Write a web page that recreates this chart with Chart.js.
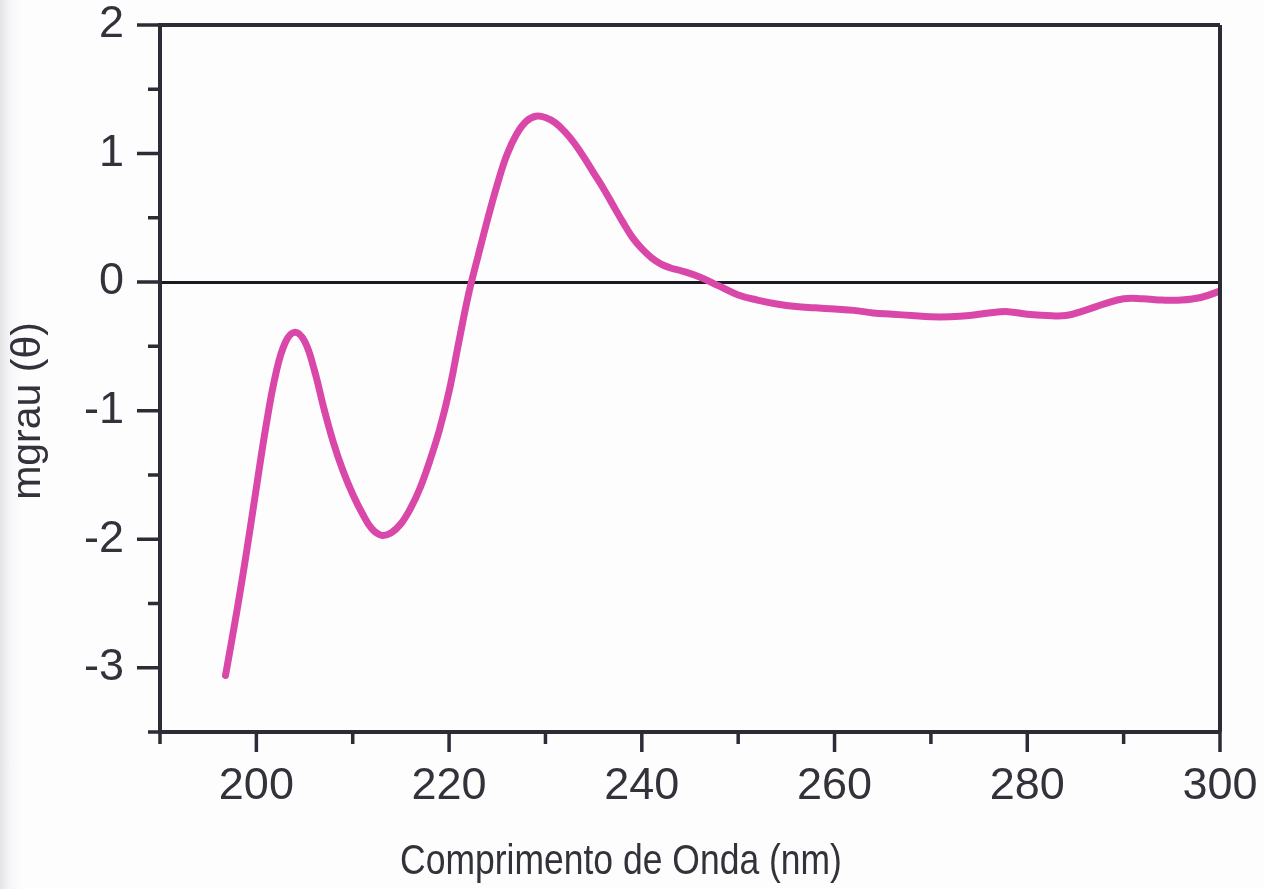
<!DOCTYPE html>
<html>
<head>
<meta charset="utf-8">
<script src="https://cdn.jsdelivr.net/npm/chart.js@4.4.1/dist/chart.umd.min.js"></script>
<style>
  html, body { margin: 0; padding: 0; background: #fdfdfe; }
  body { background: linear-gradient(to right, #e4e4e6 0px, #f6f6f8 10px, #fdfdfe 22px); }
  #wrap { width: 1264px; height: 889px; position: relative; }
</style>
</head>
<body>
<div id="wrap"><canvas id="cd"></canvas></div>
<script>
// CD spectrum: wavelength (nm) vs ellipticity (mdeg)
const wavelength = [
  196.8, 198, 199, 200, 201, 202, 203, 204, 205, 206, 207, 208, 209, 210,
  211, 212, 213, 214, 215, 216, 217, 218, 219, 220, 221, 222, 223, 224,
  225, 226, 227, 228, 229, 230, 231, 232, 233, 234, 235, 236, 237, 238,
  239, 240, 241, 242, 243, 244, 246, 248, 250, 252, 254, 256, 258, 260,
  262, 264, 266, 268, 270, 272, 274, 276, 278, 280, 282, 284, 286, 288,
  290, 292, 294, 296, 298, 300
];
const ellipticity = [
  -3.06, -2.55, -2.09, -1.60, -1.12, -0.72, -0.47, -0.39, -0.46, -0.68, -0.98, -1.25, -1.47, -1.65,
  -1.80, -1.92, -1.97, -1.95, -1.88, -1.76, -1.60, -1.39, -1.15, -0.85, -0.47, -0.10, 0.20, 0.49,
  0.76, 0.99, 1.15, 1.25, 1.29, 1.28, 1.24, 1.17, 1.08, 0.97, 0.85, 0.73, 0.60, 0.47,
  0.35, 0.26, 0.19, 0.14, 0.11, 0.09, 0.04, -0.03, -0.10, -0.14, -0.17, -0.19, -0.20, -0.21,
  -0.22, -0.24, -0.25, -0.26, -0.27, -0.27, -0.26, -0.24, -0.23, -0.25, -0.26, -0.26, -0.22, -0.17,
  -0.13, -0.13, -0.14, -0.14, -0.12, -0.07
];

const xTitle = "Comprimento de Onda (nm)";
const yTitle = "mgrau (\u03b8)";

const axisColor = "#2e2a36";
const textColor = "#35313b";
const fontFamily = "Arial, 'Liberation Sans', Helvetica, sans-serif";

// tick marks (major/minor lengths differ), frame and axis titles
const frame = {
  id: "frame",
  afterDraw(chart) {
    const { ctx, chartArea: a, scales } = chart;
    ctx.save();
    ctx.strokeStyle = axisColor;
    ctx.lineWidth = 4;
    ctx.lineCap = "butt";

    ctx.beginPath();
    ctx.moveTo(a.left, a.top);
    ctx.lineTo(a.right, a.top);
    ctx.moveTo(a.right, a.top);
    ctx.lineTo(a.right, a.bottom);
    ctx.stroke();

    ctx.lineWidth = 3.5;
    ctx.beginPath();
    scales.x.ticks.forEach(t => {
      const px = scales.x.getPixelForValue(t.value);
      const len = t.value % 20 === 0 ? 20 : 12;
      ctx.moveTo(px, a.bottom);
      ctx.lineTo(px, a.bottom + len);
    });
    scales.y.ticks.forEach(t => {
      const py = scales.y.getPixelForValue(t.value);
      const len = Number.isInteger(t.value) ? 23 : 12;
      ctx.moveTo(a.left, py);
      ctx.lineTo(a.left - len, py);
    });
    ctx.stroke();

    ctx.fillStyle = textColor;
    ctx.textAlign = "center";
    ctx.textBaseline = "middle";

    // narrow-set x title
    ctx.save();
    ctx.font = "42px " + fontFamily;
    ctx.translate(621, 862);
    ctx.scale(0.845, 1);
    ctx.fillText(xTitle, 0, 0);
    ctx.restore();

    ctx.font = "41px " + fontFamily;
    ctx.translate(29, 411);
    ctx.rotate(-Math.PI / 2);
    ctx.fillText(yTitle, 0, 0);
    ctx.restore();
  }
};

new Chart(document.getElementById("cd"), {
  type: "line",
  data: {
    datasets: [{
      data: wavelength.map((w, i) => ({ x: w, y: ellipticity[i] })),
      borderColor: "#d948a9",
      borderWidth: 7,
      pointRadius: 0,
      tension: 0.4,
      borderCapStyle: "round",
      fill: false
    }]
  },
  options: {
    responsive: true,
    maintainAspectRatio: false,
    animation: false,
    layout: { padding: { top: 25, right: 44, left: 0, bottom: 0 } },
    plugins: { legend: { display: false }, tooltip: { enabled: false } },
    scales: {
      x: {
        type: "linear",
        min: 190,
        max: 300,
        ticks: {
          stepSize: 10,
          color: textColor,
          font: { size: 45, family: fontFamily, lineHeight: 1 },
          padding: 12,
          maxRotation: 0,
          autoSkip: false,
          callback: v => (v % 20 === 0 ? v : "")
        },
        grid: { drawOnChartArea: false, tickLength: 20, tickColor: "transparent" },
        border: { color: axisColor, width: 4 },
        afterFit: s => { s.height = 157; s.paddingLeft = 0; s.paddingRight = 0; }
      },
      y: {
        min: -3.5,
        max: 2,
        ticks: {
          stepSize: 0.5,
          color: textColor,
          font: { size: 45, family: fontFamily, lineHeight: 1 },
          padding: 13,
          autoSkip: false,
          callback: v => (Number.isInteger(v) ? v : "")
        },
        grid: {
          drawOnChartArea: true,
          tickLength: 23,
          tickColor: "transparent",
          color: c => (c.tick && c.tick.value === 0 ? "#1c1a20" : "transparent"),
          lineWidth: c => (c.tick && c.tick.value === 0 ? 3 : 0)
        },
        border: { color: axisColor, width: 4 },
        afterFit: s => { s.width = 160; s.paddingTop = 0; s.paddingBottom = 0; }
      }
    }
  },
  plugins: [frame]
});
</script>
</body>
</html>
